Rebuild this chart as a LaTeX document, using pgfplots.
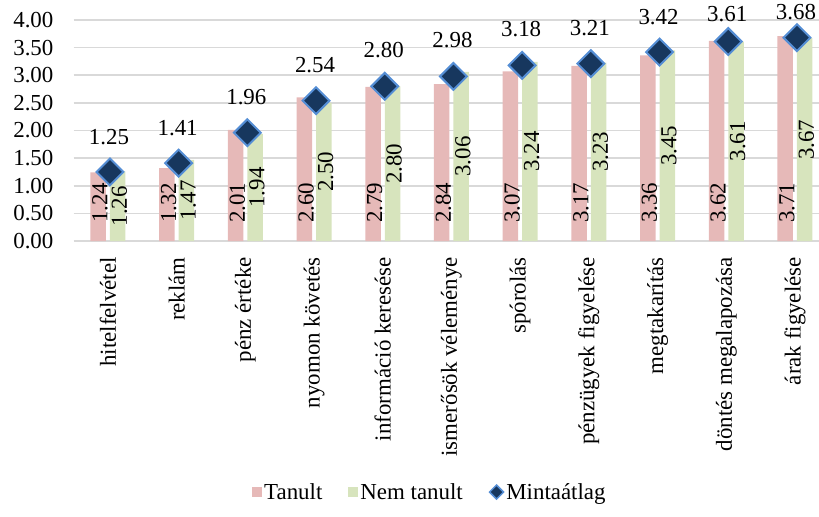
\documentclass[border=0pt]{standalone}
\usepackage{fontspec}
\setmainfont{Liberation Serif}
\usepackage{pgfplots}
\pgfplotsset{compat=1.18}
\usepackage{pgfplotstable}
\definecolor{cT}{HTML}{E6B9B8}
\definecolor{cN}{HTML}{D7E4BD}
\definecolor{cM}{HTML}{17375E}
\definecolor{cMb}{HTML}{558ED5}
\definecolor{cG}{HTML}{D9D9D9}
\newcommand\fs{\fontsize{23}{27}\selectfont}
\pgfplotstableread{
x t g m ly
0 1.24 1.26 1.25 1.88
1 1.32 1.47 1.41 2.05
2 2.01 1.94 1.96 2.61
3 2.60 2.50 2.54 3.19
4 2.79 2.80 2.80 3.46
5 2.84 3.06 2.98 3.64
6 3.07 3.24 3.18 3.84
7 3.17 3.23 3.21 3.86
8 3.36 3.45 3.42 4.05
9 3.62 3.61 3.61 4.11
10 3.71 3.67 3.68 4.14
}\data
\begin{document}
\begin{tikzpicture}
\begin{axis}[name=ax, scale only axis, width=745.4bp, height=221bp,
  xmin=-0.5, xmax=10.35, ymin=0, ymax=4,
  ytick={0,0.5,1,1.5,2,2.5,3,3.5,4},
  xtick={0,1,2,3,4,5,6,7,8,9,10},
  xticklabels={hitelfelvétel, reklám, pénz értéke, nyomon követés, információ keresése, ismerősök véleménye, spórolás, pénzügyek figyelése, megtakarítás, döntés megalapozása, árak figyelése},
  axis line style={draw=none}, major tick length=0pt, tick style={draw=none},
  ymajorgrids, grid style={cG, line width=1.6bp},
  xticklabel style={font=\fs, inner sep=0pt, yshift=-16bp, rotate=90, anchor=east},
  yticklabel style={font=\fs, inner sep=0pt, xshift=-20bp},
  /pgf/number format/.cd, fixed, fixed zerofill, precision=2, assume math mode=true, /pgfplots/.cd,
  clip=false,
  legend style={at={(0.478,-1.136)}, anchor=center, draw=none, font=\fs, legend columns=3,
    /tikz/every even column/.append style={column sep=24bp}},
]
\addplot[ybar, bar width=15.5bp, bar shift=-9.75bp, fill=cT, draw=none,
  legend image code/.code={\fill[cT] (0bp,-5bp) rectangle (10bp,5bp);}] table[x=x,y=t]{\data};
\addlegendentry{Tanult}
\addplot[ybar, bar width=15.5bp, bar shift=9.75bp, fill=cN, draw=none,
  legend image code/.code={\fill[cN] (0bp,-5bp) rectangle (10bp,5bp);}] table[x=x,y=g]{\data};
\addlegendentry{Nem tanult}
\addplot[draw=none, mark=none, forget plot, point meta=\thisrow{t},
  nodes near coords={\pgfmathprintnumber[fixed,fixed zerofill,precision=2]{\pgfplotspointmeta}},
  every node near coord/.style={font=\fs, inner sep=0pt, xshift=-8bp, yshift=18bp, rotate=90, anchor=west}]
  table[x=x, y expr=0]{\data};
\addplot[draw=none, mark=none, forget plot, point meta=\thisrow{g},
  nodes near coords={\pgfmathprintnumber[fixed,fixed zerofill,precision=2]{\pgfplotspointmeta}},
  every node near coord/.style={font=\fs, inner sep=0pt, xshift=11.5bp, rotate=90, anchor=center}]
  table[x=x, y expr=\thisrow{g}/2]{\data};
\addplot[only marks, mark=square*, mark size=9.5bp,
  mark options={xshift=2bp, rotate=45, fill=cM, draw=cMb, line width=2bp},
  legend image code/.code={\draw[fill=cM, draw=cMb, line width=1.5bp] (-2bp,0bp) -- (5bp,7bp) -- (12bp,0bp) -- (5bp,-7bp) -- cycle;}] table[x=x,y=m]{\data};
\addlegendentry{Mintaátlag}
\addplot[draw=none, mark=none, forget plot, point meta=\thisrow{m},
  nodes near coords={\pgfmathprintnumber[fixed,fixed zerofill,precision=2]{\pgfplotspointmeta}},
  every node near coord/.style={font=\fs, inner sep=0pt, xshift=1bp, anchor=center}]
  table[x=x, y=ly]{\data};
\end{axis}
\pgfresetboundingbox
\path[use as bounding box] ([xshift=-73.6bp,yshift=-276bp]ax.south west) rectangle ([yshift=20bp]ax.north east);
\end{tikzpicture}
\end{document}
